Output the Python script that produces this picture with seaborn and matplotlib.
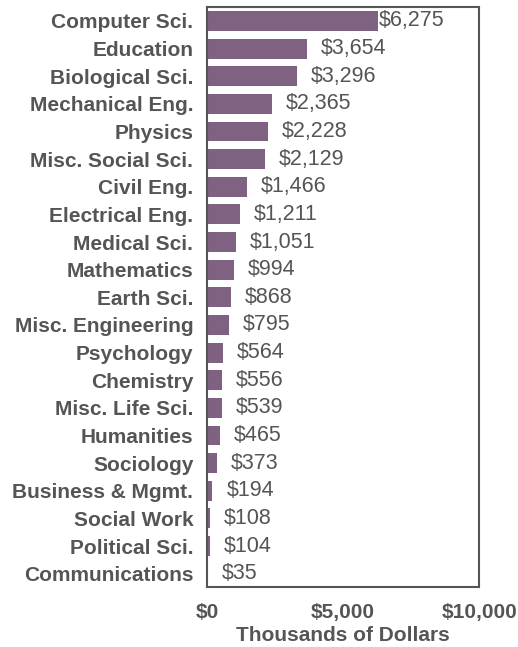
import matplotlib
matplotlib.use("Agg")
import matplotlib.pyplot as plt
import seaborn as sns
import pandas as pd

fields = ["Computer Sci.", "Education", "Biological Sci.", "Mechanical Eng.", "Physics",
          "Misc. Social Sci.", "Civil Eng.", "Electrical Eng.", "Medical Sci.", "Mathematics",
          "Earth Sci.", "Misc. Engineering", "Psychology", "Chemistry", "Misc. Life Sci.",
          "Humanities", "Sociology", "Business & Mgmt.", "Social Work", "Political Sci.",
          "Communications"]
amounts = [6275, 3654, 3296, 2365, 2228, 2129, 1466, 1211, 1051, 994, 868, 795,
           564, 556, 539, 465, 373, 194, 108, 104, 35]
x_ticks = [0, 5000, 10000]
x_tick_labels = ["$0", "$5,000", "$10,000"]

df = pd.DataFrame({"Field": fields, "Amount": amounts})

sns.set_theme(style="white")
plt.rcParams["font.family"] = ["Liberation Sans", "DejaVu Sans"]

text_color = "#555555"
bar_color = "#7f6181"

fig, ax = plt.subplots(figsize=(5.18, 6.47), dpi=100)
sns.barplot(data=df, x="Amount", y="Field", color=bar_color, width=0.72,
            saturation=1, linewidth=0, ax=ax)

for i, (bar, val) in enumerate(zip(ax.patches, amounts)):
    pad = 1 if i == 0 else 10
    ax.annotate(f"${val:,}", (bar.get_width(), bar.get_y() + bar.get_height() / 2),
                xytext=(pad, 0), textcoords="offset points", va="center", ha="left",
                fontsize=15.5, color=text_color)

ax.set_xlim(0, 10000)
ax.set_xticks(x_ticks)
ax.set_xticklabels(x_tick_labels, fontsize=15, fontweight="bold", color=text_color)
ax.tick_params(axis="y", labelsize=15, colors=text_color, length=0, pad=10)
ax.tick_params(axis="x", length=0, pad=11)
for lbl in ax.get_yticklabels():
    lbl.set_fontweight("bold")
ax.set_ylabel("")
ax.set_xlabel("Thousands of Dollars", fontsize=15, fontweight="bold", color=text_color,
              labelpad=3)

for sp in ax.spines.values():
    sp.set_color("#555555")
    sp.set_linewidth(1.5)

fig.subplots_adjust(left=0.40, right=0.925, top=0.989, bottom=0.092)
fig.savefig("out.png", dpi=100)
